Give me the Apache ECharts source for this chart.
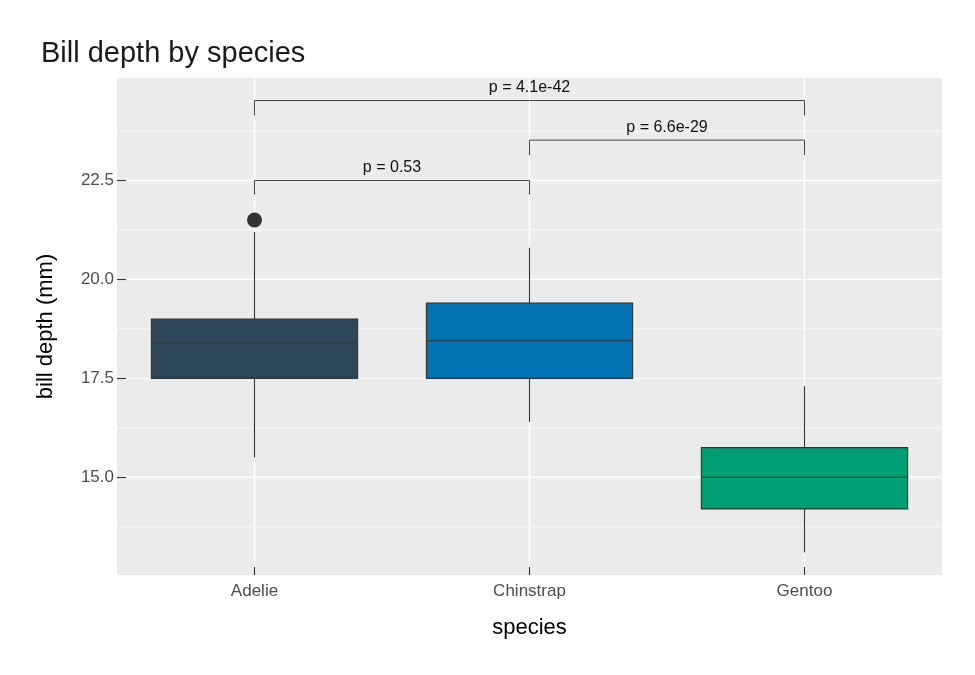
<!DOCTYPE html>
<html>
<head>
<meta charset="utf-8">
<title>Bill depth by species</title>
<script src="https://cdn.jsdelivr.net/npm/echarts@6/dist/echarts.min.js"></script>
<style>
  html, body { margin: 0; padding: 0; background: #fff; }
  #chart { width: 975px; height: 675px; }
</style>
</head>
<body>
<div id="chart"></div>
<script>
// box statistics
const species = ['Adelie', 'Chinstrap', 'Gentoo'];
const whiskerLow = [15.5, 16.4, 13.1];
const q1 = [17.5, 17.5, 14.2];
const median = [18.4, 18.45, 15.0];
const q3 = [19.0, 19.4, 15.75];
const whiskerHigh = [21.2, 20.8, 17.3];
const boxColors = ['#2E4858', '#0072B2', '#009E73'];

const outlierSpecies = ['Adelie'];
const outlierValues = [21.5];

// axis ticks
const yTickValues = [15, 17.5, 20, 22.5];
const yMinorValues = [13.75, 16.25, 18.75, 21.25, 23.75];

// pairwise comparisons
const compareFrom = ['Adelie', 'Chinstrap', 'Adelie'];
const compareTo = ['Chinstrap', 'Gentoo', 'Gentoo'];
const compareY = [22.5, 23.52, 24.52];
const compareTipY = [22.14, 23.14, 24.14];
const pLabels = ['p = 0.53', 'p = 6.6e-29', 'p = 4.1e-42'];

const FONT = '"Liberation Sans", Arial, Helvetica, sans-serif';

const boxData = species.map((s, i) => [s, whiskerLow[i], q1[i], median[i], q3[i], whiskerHigh[i]]);
const gridData = yTickValues.map(v => [0, v, 1]).concat(yMinorValues.map(v => [0, v, 0]));
const bracketData = pLabels.map((p, i) =>
  [species.indexOf(compareFrom[i]), species.indexOf(compareTo[i]), compareY[i], compareTipY[i]]);
const outlierData = outlierSpecies.map((s, i) => [s, outlierValues[i]]);

function renderGrid(params, api) {
  const cs = params.coordSys;
  const y = api.coord([0, api.value(1)])[1];
  const major = api.value(2) === 1;
  return {
    type: 'line',
    shape: { x1: cs.x, y1: y, x2: cs.x + cs.width, y2: y },
    style: { stroke: '#fff', lineWidth: major ? 1.3 : 0.7 }
  };
}

function renderVGrid(params, api) {
  const cs = params.coordSys;
  const x = api.coord([api.value(0), 0])[0];
  return {
    type: 'line',
    shape: { x1: x, y1: cs.y, x2: x, y2: cs.y + cs.height },
    style: { stroke: '#fff', lineWidth: 1.3 }
  };
}

function renderBox(params, api) {
  const idx = api.value(0);
  const lo = api.coord([idx, api.value(1)]);
  const b1 = api.coord([idx, api.value(2)]);
  const md = api.coord([idx, api.value(3)]);
  const b3 = api.coord([idx, api.value(4)]);
  const hi = api.coord([idx, api.value(5)]);
  const w = api.size([1, 0])[0] * 0.75;
  const x = lo[0];
  const stroke = { stroke: '#333', lineWidth: 1.1 };
  return {
    type: 'group',
    children: [
      { type: 'line', shape: { x1: x, y1: lo[1], x2: x, y2: b1[1] }, style: stroke },
      { type: 'line', shape: { x1: x, y1: b3[1], x2: x, y2: hi[1] }, style: stroke },
      {
        type: 'rect',
        shape: { x: x - w / 2, y: b3[1], width: w, height: b1[1] - b3[1] },
        style: { fill: boxColors[params.dataIndex], stroke: '#333', lineWidth: 1.1 }
      },
      { type: 'line', shape: { x1: x - w / 2, y1: md[1], x2: x + w / 2, y2: md[1] }, style: stroke }
    ]
  };
}

function renderBracket(params, api) {
  const a = api.coord([api.value(0), api.value(2)]);
  const b = api.coord([api.value(1), api.value(2)]);
  const tip = api.coord([api.value(0), api.value(3)])[1];
  return {
    type: 'group',
    children: [
      { type: 'polyline', shape: { points: [[a[0], tip], [a[0], a[1]], [b[0], b[1]], [b[0], tip]] },
        style: { stroke: '#444', lineWidth: 1, fill: null } },
      {
        type: 'text',
        style: {
          text: pLabels[params.dataIndex],
          x: (a[0] + b[0]) / 2, y: a[1] - 5,
          textAlign: 'center', textVerticalAlign: 'bottom',
          fontSize: 16, fontFamily: FONT, fill: '#111'
        }
      }
    ]
  };
}

const chart = echarts.init(document.getElementById('chart'));
chart.setOption({
  animation: false,
  backgroundColor: '#fff',
  title: {
    text: 'Bill depth by species',
    left: 41, top: 39, padding: 0,
    textStyle: { fontSize: 29, fontWeight: 'normal', color: '#1a1a1a', fontFamily: FONT }
  },
  grid: {
    left: 117, right: 33, top: 78, bottom: 100,
    show: true, backgroundColor: '#EBEBEB', borderWidth: 0
  },
  xAxis: {
    type: 'category',
    data: species,
    boundaryGap: true,
    z: 5,
    name: 'species',
    nameLocation: 'middle',
    nameGap: 42,
    nameTextStyle: { fontSize: 22, color: '#000', fontFamily: FONT },
    axisLine: { show: false },
    axisTick: { show: true, inside: true, alignWithLabel: true, length: 8, lineStyle: { color: '#333', width: 1.1 } },
    axisLabel: { margin: 8, fontSize: 17, color: '#4D4D4D', fontFamily: FONT },
    splitLine: { show: false }
  },
  yAxis: {
    type: 'value',
    min: 12.53,
    max: 25.09,
    z: 5,
    name: 'bill depth (mm)',
    nameLocation: 'middle',
    nameGap: 60,
    nameTextStyle: { fontSize: 22, color: '#000', fontFamily: FONT },
    axisLine: { show: false },
    axisTick: { show: true, inside: true, length: 9, customValues: yTickValues, lineStyle: { color: '#333', width: 1.1 } },
    axisLabel: {
      margin: 3, fontSize: 17, color: '#4D4D4D', fontFamily: FONT,
      customValues: yTickValues,
      formatter: v => v.toFixed(1)
    },
    splitLine: { show: false }
  },
  series: [
    {
      type: 'custom', z: 1, silent: true,
      data: gridData,
      encode: { x: 0, y: 1 },
      renderItem: renderGrid
    },
    {
      type: 'custom', z: 1, silent: true,
      data: species.map(s => [s, 0]),
      encode: { x: 0, y: 1 },
      renderItem: renderVGrid
    },
    {
      type: 'custom', z: 3,
      data: boxData,
      encode: { x: 0, y: [1, 2, 3, 4, 5] },
      renderItem: renderBox
    },
    {
      type: 'scatter', z: 4,
      data: outlierData,
      symbolSize: 15,
      itemStyle: { color: '#333', opacity: 1 }
    },
    {
      type: 'custom', z: 4, silent: true,
      data: bracketData,
      encode: { x: [0, 1], y: [2, 3] },
      renderItem: renderBracket
    }
  ]
});
</script>
</body>
</html>
